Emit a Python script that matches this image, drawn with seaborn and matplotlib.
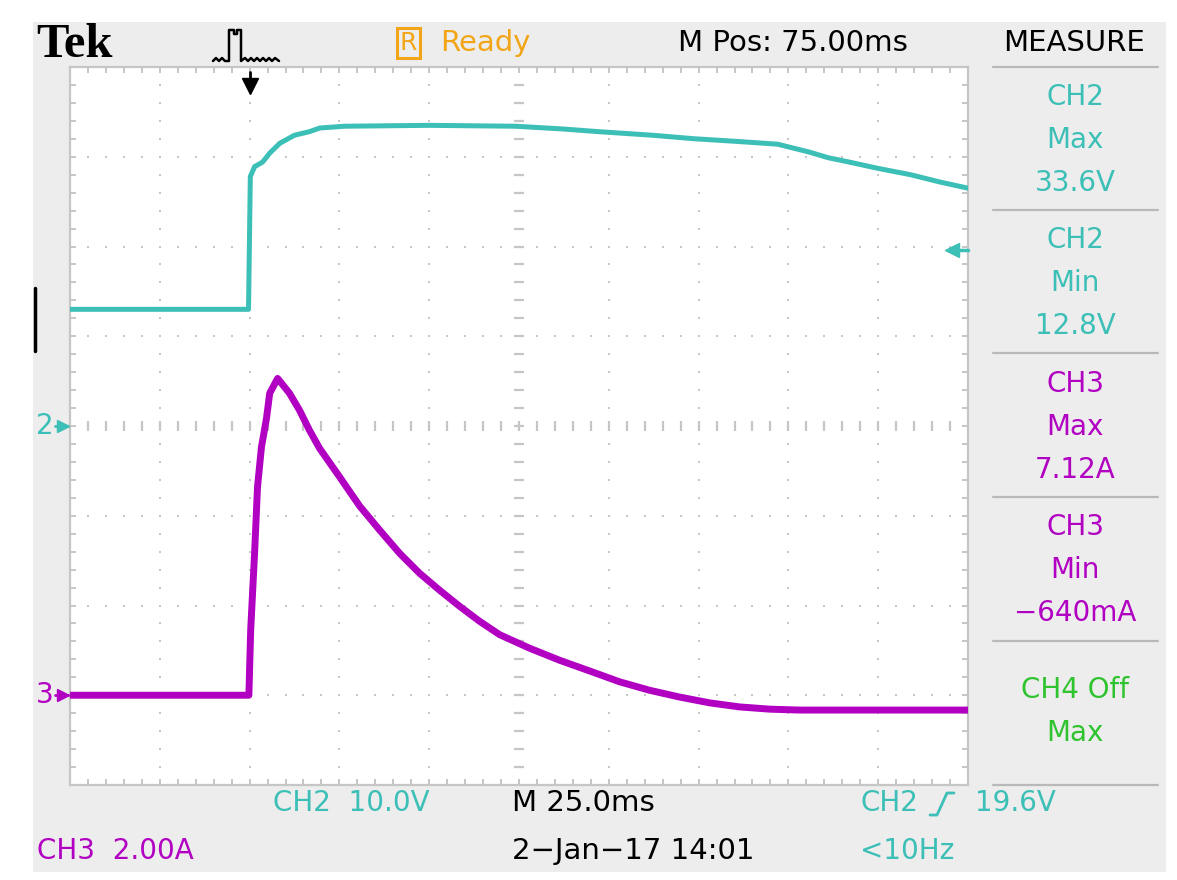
import numpy as np
import pandas as pd
import matplotlib
matplotlib.use("Agg")
import matplotlib.pyplot as plt
import seaborn as sns
from matplotlib.lines import Line2D
from matplotlib.patches import Rectangle

# ---------------- values ----------------
# time in ms relative to the trigger point (25 ms/div, 10 div across)
ch2_time = [-50, -0.3, 0.2, 1.4, 3.6, 5.6, 8.4, 12.5, 16.7, 19.5, 26.4, 50, 74,
            87, 97, 112, 124, 136, 147, 150, 156, 161, 167, 175, 184, 192, 200]
ch2_volts = [13.0, 13.0, 27.8, 28.9, 29.4, 30.4, 31.5, 32.4, 32.8, 33.2, 33.4, 33.5, 33.4,
             33.1, 32.8, 32.4, 32.0, 31.7, 31.4, 31.1, 30.5, 29.9, 29.4, 28.7, 28.0, 27.2, 26.5]

ch3_time = [-50, -0.2, 0.3, 1.4, 2.2, 3.3, 4.7, 5.6, 7.8, 11.1, 13.9, 16.7, 19.5, 25.1,
            30.6, 36.2, 41.8, 47.3, 52.9, 58.5, 64.0, 69.6, 77.9, 86.3, 94.7, 103, 111.4,
            119.7, 128.1, 136.4, 144.8, 153.1, 200]
ch3_amps = [0.0, 0.0, 1.45, 3.19, 4.64, 5.53, 6.17, 6.73, 7.06, 6.73, 6.35, 5.90, 5.50, 4.86,
            4.22, 3.68, 3.16, 2.72, 2.34, 1.98, 1.65, 1.35, 1.05, 0.78, 0.54, 0.30, 0.11,
            -0.04, -0.17, -0.26, -0.31, -0.33, -0.33]

# scope settings
ch2_scale = 10.0      # V/div, ground at centre
ch3_scale = 2.0       # A/div
ch3_offset = -3.0     # div
trig_level = 19.6     # V

measure_labels = [("CH2", "Max", "33.6V"), ("CH2", "Min", "12.8V"),
                  ("CH3", "Max", "7.12A"), ("CH3", "Min", "\u2212640mA"),
                  ("CH4 Off", "Max", "")]

TEAL = "#3cbfb6"
MAG = "#b100c2"
GREEN = "#2fc42f"
ORANGE = "#f2a516"
GRID = "#c6c6c6"

W, H = 1177, 880

# ---------------- build dataframe ----------------
df2 = pd.DataFrame({"time": ch2_time, "div": np.array(ch2_volts) / ch2_scale})
df3 = pd.DataFrame({"time": ch3_time, "div": np.array(ch3_amps) / ch3_scale + ch3_offset})

sns.set_style("white")
plt.rcParams["font.family"] = ["DejaVu Sans"]

fig = plt.figure(figsize=(W / 100, H / 100), dpi=100)
fig.patch.set_facecolor("white")


def px(x, y):
    return x / W, 1 - y / H


# gray screen background
x0, y0 = px(33, 872)
fig.patches.append(Rectangle((x0, y0), (1166 - 33) / W, (872 - 22) / H,
                             transform=fig.transFigure, facecolor="#ededed",
                             edgecolor="none", zorder=-10))

l, b = px(70, 785)
ax = fig.add_axes([l, b, (968 - 70) / W, (785 - 67) / H])
ax.set_zorder(1)
ax.set_facecolor("white")
ax.set_xlim(-50, 200)
ax.set_ylim(-4, 4)

for s in ax.spines.values():
    s.set_color(GRID)
    s.set_linewidth(1.6)

ax.set_xticks(np.arange(-50, 201, 25))
ax.set_xticks(np.arange(-50, 201, 5), minor=True)
ax.set_yticks(np.arange(-4, 4.01, 1))
ax.set_yticks(np.arange(-4, 4.01, 0.2), minor=True)
ax.tick_params(which="both", direction="in", top=True, right=True, bottom=True, left=True,
               labelbottom=False, labelleft=False, color=GRID, width=1.4, length=4.5)

# dotted graticule
gx = np.arange(-45, 200, 5)
gy = np.arange(-3.8, 3.81, 0.2)
vx = [-25, 0, 25, 50, 100, 125, 150, 175]
hy = [-3, -2, -1, 1, 2, 3]
dots_x = [x for x in vx for _ in gy] + [x for _ in hy for x in gx]
dots_y = [y for _ in vx for y in gy] + [y for y in hy for _ in gx]
ax.scatter(dots_x, dots_y, s=4.5, marker="s", color=GRID, linewidths=0, zorder=1)
# centre cross with small ticks
ax.scatter(gx, np.zeros_like(gx), marker="|", s=45, color=GRID, linewidths=1.6, zorder=1)
ax.scatter(np.full_like(gy, 75), gy, marker="_", s=55, color=GRID, linewidths=1.6, zorder=1)

# traces
sns.lineplot(data=df2, x="time", y="div", sort=False, estimator=None, color=TEAL,
             linewidth=3.6, ax=ax, zorder=3)
sns.lineplot(data=df3, x="time", y="div", sort=False, estimator=None, color=MAG,
             linewidth=5.0, ax=ax, zorder=3)
ax.set_xlabel("")
ax.set_ylabel("")

# trigger level arrow on right edge
ax.plot([195.5, 200], [trig_level / ch2_scale] * 2, color=TEAL, lw=2.5, clip_on=False, zorder=4)
ax.plot([195.5], [trig_level / ch2_scale], marker="<", ms=10, color=TEAL, clip_on=False, zorder=4)


def ftext(x, y, s, **kw):
    kw.setdefault("va", "center")
    fig.text(*px(x, y), s, **kw)


# header
ftext(36, 45, "Tek", family="Liberation Serif", weight="bold", fontsize=35, color="black")
icon = [(213, 61), (216, 58), (219, 61), (222, 58), (225, 61), (229, 61), (229, 30),
        (234, 30), (234, 34), (237, 34), (237, 30), (241, 30), (241, 61), (245, 58),
        (248, 61), (251, 58), (254, 61), (257, 58), (260, 61), (263, 58), (266, 61),
        (269, 58), (272, 61), (275, 58), (279, 61)]
fig.add_artist(Line2D([px(*p)[0] for p in icon], [px(*p)[1] for p in icon],
                      transform=fig.transFigure, color="black", lw=1.8))
fig.add_artist(Line2D([px(250, 72)[0]] * 2, [px(250, 72)[1], px(250, 84)[1]],
                      transform=fig.transFigure, color="black", lw=2, zorder=5))
fig.add_artist(Line2D([px(250, 86)[0]], [px(250, 86)[1]], transform=fig.transFigure,
                      marker="v", ms=11, color="black", zorder=5))

ftext(400, 43, "R", fontsize=18, color=ORANGE,
      bbox=dict(boxstyle="square,pad=0.12", fc="none", ec=ORANGE, lw=2.2))
ftext(440, 43, "Ready", fontsize=21, color=ORANGE)
ftext(678, 43, "M Pos: 75.00ms", fontsize=21, color="black")
ftext(1074, 43, "MEASURE", fontsize=21, color="black", ha="center")

# measurement column
for yy in [67, 210, 353, 497, 641, 785]:
    fig.add_artist(Line2D([px(993, yy)[0], px(1158, yy)[0]], [px(993, yy)[1]] * 2,
                          transform=fig.transFigure, color="#b9b9b9", lw=1.6))
row_y = [97, 240, 384, 527, 690]
for (a, bb, c), yy in zip(measure_labels, row_y):
    col = TEAL if a.startswith("CH2") else MAG if a.startswith("CH3") else GREEN
    ftext(1075, yy, a, fontsize=20, color=col, ha="center")
    ftext(1075, yy + 43, bb, fontsize=20, color=col, ha="center")
    if c:
        ftext(1075, yy + 86, c, fontsize=20, color=col, ha="center")

# left side markers
ftext(36, 426, "2", fontsize=20, color=TEAL)
fig.add_artist(Line2D([px(55, 426)[0], px(68, 426)[0]], [px(55, 426)[1]] * 2,
                      transform=fig.transFigure, color=TEAL, lw=2))
fig.add_artist(Line2D([px(63, 426)[0]], [px(63, 426)[1]], transform=fig.transFigure,
                      marker=">", ms=8, color=TEAL))
ftext(36, 695, "3", fontsize=20, color=MAG)
fig.add_artist(Line2D([px(55, 695)[0], px(68, 695)[0]], [px(55, 695)[1]] * 2,
                      transform=fig.transFigure, color=MAG, lw=2))
fig.add_artist(Line2D([px(63, 695)[0]], [px(63, 695)[1]], transform=fig.transFigure,
                      marker=">", ms=8, color=MAG))
fig.add_artist(Line2D([px(35, 288)[0]] * 2, [px(35, 288)[1], px(35, 351)[1]],
                      transform=fig.transFigure, color="black", lw=2.5))

# bottom status lines
ftext(273, 803, "CH2  10.0V", fontsize=20, color=TEAL)
ftext(512, 803, "M 25.0ms", fontsize=21, color="black")
ftext(860, 803, "CH2", fontsize=20, color=TEAL)
slope = [(930, 815), (937, 815), (947, 793), (954, 793)]
fig.add_artist(Line2D([px(*p)[0] for p in slope], [px(*p)[1] for p in slope],
                      transform=fig.transFigure, color=TEAL, lw=2))
ftext(975, 803, "19.6V", fontsize=20, color=TEAL)
ftext(37, 851, "CH3  2.00A", fontsize=20, color=MAG)
ftext(512, 851, "2\u2212Jan\u221217 14:01", fontsize=21, color="black")
ftext(860, 851, "<10Hz", fontsize=20, color=TEAL)

fig.savefig("out.png", dpi=100, facecolor="white")
